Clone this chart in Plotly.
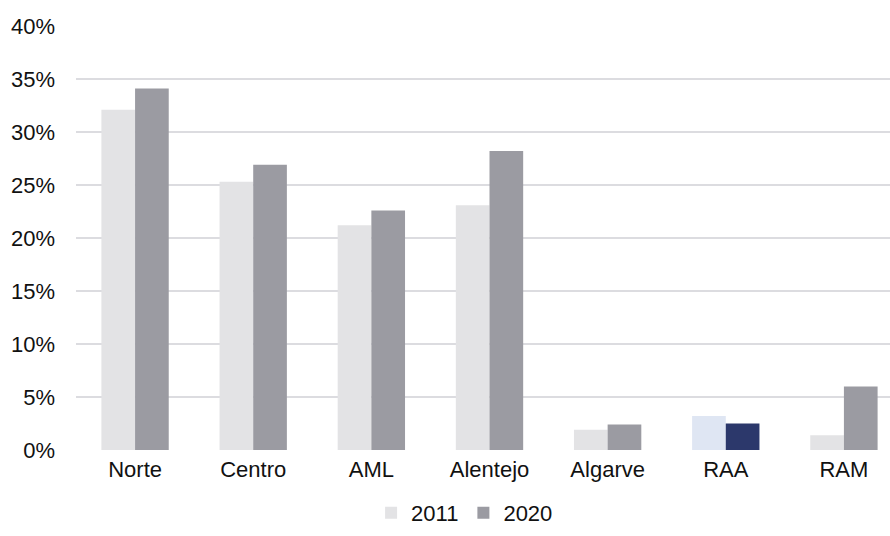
import plotly.graph_objects as go

regions = ["Norte", "Centro", "AML", "Alentejo", "Algarve", "RAA", "RAM"]
share_2011 = [32.1, 25.3, 21.2, 23.1, 1.9, 3.2, 1.4]
share_2020 = [34.1, 26.9, 22.6, 28.2, 2.4, 2.5, 6.0]

grey_2011 = "#E3E3E5"
grey_2020 = "#9B9BA2"
# RAA is highlighted in blue tones
colors_2011 = ["#DFE6F3" if r == "RAA" else grey_2011 for r in regions]
colors_2020 = ["#2C386B" if r == "RAA" else grey_2020 for r in regions]

fig = go.Figure()
fig.add_trace(go.Bar(
    x=regions, y=share_2011, name="2011",
    marker=dict(color=colors_2011, line=dict(width=0)),
))
fig.add_trace(go.Bar(
    x=regions, y=share_2020, name="2020",
    marker=dict(color=colors_2020, line=dict(width=0)),
))

font = dict(family="Liberation Sans, Arial, sans-serif", size=22, color="#111111")

fig.update_layout(
    width=890, height=536,
    margin=dict(l=76, r=0, t=26, b=86, autoexpand=False),
    paper_bgcolor="white", plot_bgcolor="white",
    barmode="group", bargap=0.43, bargroupgap=0,
    font=font,
    showlegend=True,
    legend=dict(orientation="h", xref="container", x=0.522, xanchor="center",
                yref="container", y=0.043, yanchor="middle",
                font=font, itemclick=False),
    xaxis=dict(range=[-0.5, 6.39], showgrid=False, zeroline=False, showline=False,
               ticks="", ticklabelstandoff=4, tickfont=font),
    yaxis=dict(range=[0, 40], dtick=5, ticksuffix="%", showgrid=True,
               gridcolor="#DCDCE0", gridwidth=2, zeroline=False, showline=False,
               ticks="", ticklabelstandoff=20, tickfont=font),
)

fig.write_html("out.html")
